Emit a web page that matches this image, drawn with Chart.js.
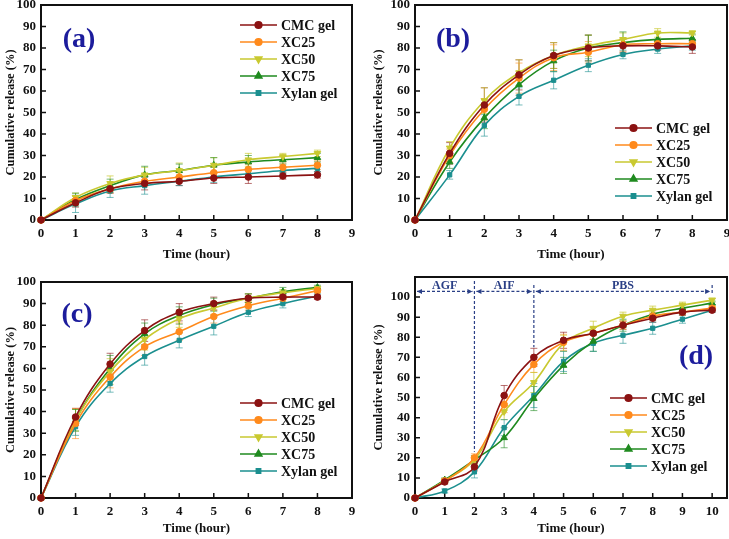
<!DOCTYPE html>
<html>
<head>
<meta charset="utf-8">
<script src="https://cdn.jsdelivr.net/npm/chart.js@4"></script>
<style>
  body { margin: 0; background: #fff; width: 729px; height: 539px; position: relative; overflow: hidden; }
  .panel { position: absolute; }
</style>
</head>
<body>
<div class="panel" id="pa"><canvas id="ca"></canvas></div>
<div class="panel" id="pb"><canvas id="cb"></canvas></div>
<div class="panel" id="pc"><canvas id="cc"></canvas></div>
<div class="panel" id="pd"><canvas id="cd"></canvas></div>
<script>
// series names
const series = ["CMC gel", "XC25", "XC50", "XC75", "Xylan gel"];

// time points (hour)
const timeABC = [0, 1, 2, 3, 4, 5, 6, 7, 8];
const timeD = [0, 1, 2, 3, 4, 5, 6, 7, 8, 9, 10];

// tick labels
const xTicksABC = [0, 1, 2, 3, 4, 5, 6, 7, 8, 9];
const xTicksD = [0, 1, 2, 3, 4, 5, 6, 7, 8, 9, 10];
const yTicks = [0, 10, 20, 30, 40, 50, 60, 70, 80, 90, 100];

// cumulative release (%) per panel, one row per series
const releaseA = [
  [0, 8, 14.5, 17, 18, 19.5, 20, 20.5, 21],
  [0, 9, 14.5, 18, 20, 22, 23.5, 24.5, 25.5],
  [0, 10.5, 17, 21, 23, 25.5, 28, 29.5, 31],
  [0, 9.5, 16, 21, 23, 25.5, 27, 28, 29],
  [0, 7.5, 13.5, 16, 18, 20, 21.5, 23, 24]
];
const errorA = [
  [0, 2, 2, 3, 2, 2.5, 3, 1.5, 1.5],
  [0, 2, 2, 2.5, 2, 2.5, 2.5, 2, 2],
  [0, 2, 3.5, 3.5, 3.5, 3.5, 3, 1.5, 1.5],
  [0, 3, 3, 4, 3, 3.5, 3, 2, 2],
  [0, 4, 3, 4, 2, 2.5, 2, 1.5, 1.5]
];
const releaseB = [
  [0, 31, 53.5, 67.5, 76.5, 80, 81, 81, 80.5],
  [0, 30, 51.5, 66, 75.5, 78, 81.5, 82, 82],
  [0, 33.5, 55.5, 68.5, 76.5, 81, 84, 87, 87],
  [0, 27, 47.5, 63, 74, 80, 82.5, 84, 84.5],
  [0, 21, 44, 57.5, 65, 72, 77, 79.5, 81]
];
const errorB = [
  [0, 5, 8, 7, 6, 6, 3, 2, 3],
  [0, 3, 5, 7, 6, 5, 3, 2, 2],
  [0, 3, 6, 6, 6, 5, 3, 2, 1],
  [0, 3, 5, 5, 5, 6, 5, 3, 2],
  [0, 2, 5, 4, 4, 3, 2, 2, 2]
];
const releaseC = [
  [0, 37.5, 62, 77.5, 86, 90, 92.5, 93, 93],
  [0, 34.5, 56, 70, 77, 84, 89, 92.5, 96],
  [0, 36, 58.5, 73.5, 83, 88, 92.5, 95, 97],
  [0, 36, 60, 76, 84.5, 89.5, 92.5, 95.5, 97.5],
  [0, 33, 53, 65.5, 73, 79.5, 86, 90, 93.5]
];
const errorC = [
  [0, 4, 5, 5, 4, 3, 2, 1, 1],
  [0, 7, 5, 4, 4, 3, 2, 1.5, 1],
  [0, 5, 6, 5, 4, 3, 2, 1.5, 1],
  [0, 5, 6, 5, 4, 3, 2, 2, 1],
  [0, 4, 4, 4, 3.5, 4, 2, 2, 1]
];
const releaseD = [
  [0, 8, 15.5, 51, 70, 78.5, 82, 86, 89.5, 92.5, 93.5],
  [0, 8.5, 20, 46.5, 66.5, 77.5, 82, 86, 90.5, 92.5, 94.5],
  [0, 8.5, 19, 43, 57.5, 77, 84.5, 90.5, 93.5, 96, 98.5],
  [0, 9, 19, 30, 49.5, 66, 78, 86, 91.5, 94.5, 97],
  [0, 3.5, 13, 35, 51, 68, 77, 81, 84.5, 89, 93.5]
];
const errorD = [
  [0, 1, 2, 5, 4.5, 4, 3, 2, 2, 1.5, 1],
  [0, 1, 2, 4, 4, 4, 3, 2, 2, 1.5, 1],
  [0, 1, 2, 4, 5, 4, 3.5, 2, 2, 1.5, 1],
  [0, 1, 2, 5, 6, 4, 5, 3, 2, 1.5, 1],
  [0, 1, 3, 4, 6, 5, 4, 4, 3, 2, 1]
];

// release media in panel (d)
const phases = [
  { label: "AGF", from: 0, to: 2 },
  { label: "AIF", from: 2, to: 4 },
  { label: "PBS", from: 4, to: 10 }
];

const colors = ["#8b1212", "#ff8a1c", "#c9c930", "#1f8a1f", "#1b8f8f"];
const errColors = ["rgba(139,18,18,0.6)", "rgba(255,138,28,0.6)", "rgba(201,201,48,0.7)", "rgba(31,138,31,0.6)", "rgba(27,143,143,0.6)"];
const styles = ["circle", "circle", "triangle", "triangle", "rect"];
const rotations = [0, 0, 180, 0, 0];
const radii = [3.3, 3.3, 3.8, 3.8, 3];
const serif = "'Liberation Serif', 'Times New Roman', serif";

const errorBars = {
  id: "errorBars",
  beforeDatasetsDraw(chart) {
    const { ctx, scales: { x, y } } = chart;
    chart.data.datasets.forEach((ds) => {
      ctx.save();
      ctx.strokeStyle = ds.errColor;
      ctx.lineWidth = 1;
      ctx.beginPath();
      ds.data.forEach((p) => {
        if (!p.e) return;
        const px = x.getPixelForValue(p.x);
        const lo = y.getPixelForValue(p.y - p.e);
        const hi = y.getPixelForValue(p.y + p.e);
        ctx.moveTo(px, lo); ctx.lineTo(px, hi);
        ctx.moveTo(px - 3.5, lo); ctx.lineTo(px + 3.5, lo);
        ctx.moveTo(px - 3.5, hi); ctx.lineTo(px + 3.5, hi);
      });
      ctx.stroke();
      ctx.restore();
    });
  }
};

const frame = {
  id: "frame",
  beforeDatasetsDraw(chart) {
    const { ctx, chartArea: a, scales: { x, y } } = chart;
    ctx.save();
    ctx.strokeStyle = "#111";
    ctx.lineWidth = 1.5;
    ctx.beginPath();
    x.ticks.forEach((t) => {
      const px = x.getPixelForValue(t.value);
      ctx.moveTo(px, a.bottom); ctx.lineTo(px, a.bottom - 5);
    });
    y.ticks.forEach((t) => {
      if (t.value > 100) return;
      const py = y.getPixelForValue(t.value);
      ctx.moveTo(a.left, py); ctx.lineTo(a.left + 5, py);
    });
    ctx.stroke();
    ctx.lineWidth = 2;
    ctx.strokeRect(a.left, a.top, a.right - a.left, a.bottom - a.top);
    ctx.restore();
  }
};

const legendBox = {
  id: "legendBox",
  afterDraw(chart, args, o) {
    const ctx = chart.ctx;
    ctx.save();
    ctx.font = "bold 14px " + serif;
    ctx.textBaseline = "middle";
    chart.data.datasets.forEach((ds, i) => {
      const y = o.y + i * o.dy;
      ctx.strokeStyle = ds.borderColor;
      ctx.fillStyle = ds.borderColor;
      ctx.lineWidth = 1.6;
      ctx.beginPath();
      ctx.moveTo(o.x, y); ctx.lineTo(o.x + o.len, y);
      ctx.stroke();
      Chart.helpers.drawPoint(ctx, { pointStyle: ds.pointStyle, rotation: ds.pointRotation, radius: ds.pointRadius, borderWidth: 1 }, o.x + o.len / 2, y);
      ctx.fillStyle = "#111";
      ctx.fillText(ds.label, o.x + o.len + 4, y + 1);
    });
    ctx.restore();
  }
};

const panelLabel = {
  id: "panelLabel",
  afterDraw(chart, args, o) {
    const ctx = chart.ctx;
    ctx.save();
    ctx.font = "bold 28px " + serif;
    ctx.fillStyle = "#1c1c9c";
    ctx.textAlign = "center";
    ctx.textBaseline = "middle";
    ctx.fillText(o.text, o.x, o.y);
    ctx.restore();
  }
};

const media = {
  id: "media",
  beforeDatasetsDraw(chart, args, o) {
    if (!o.show) return;
    const { ctx, scales: { x, y } } = chart;
    const arrowY = y.getPixelForValue(102.8);
    const textY = y.getPixelForValue(105.8);
    const head = (px, dir) => {
      ctx.beginPath();
      ctx.moveTo(px, arrowY);
      ctx.lineTo(px - dir * 5, arrowY - 2.5);
      ctx.lineTo(px - dir * 5, arrowY + 2.5);
      ctx.closePath();
      ctx.fill();
    };
    ctx.save();
    ctx.strokeStyle = "#2a3f86";
    ctx.fillStyle = "#2a3f86";
    ctx.lineWidth = 1.2;
    ctx.setLineDash([3, 2]);
    ctx.beginPath();
    ctx.moveTo(x.getPixelForValue(2), y.getPixelForValue(108)); ctx.lineTo(x.getPixelForValue(2), y.getPixelForValue(23));
    ctx.moveTo(x.getPixelForValue(4), y.getPixelForValue(106)); ctx.lineTo(x.getPixelForValue(4), y.getPixelForValue(75));
    ctx.moveTo(x.getPixelForValue(10), y.getPixelForValue(106)); ctx.lineTo(x.getPixelForValue(10), y.getPixelForValue(101));
    phases.forEach((p) => {
      ctx.moveTo(x.getPixelForValue(p.from) + 2, arrowY); ctx.lineTo(x.getPixelForValue(p.to) - 2, arrowY);
    });
    ctx.stroke();
    ctx.setLineDash([]);
    phases.forEach((p) => {
      head(x.getPixelForValue(p.from) + 2, -1);
      head(x.getPixelForValue(p.to) - 2, 1);
    });
    ctx.font = "bold 12px " + serif;
    ctx.textAlign = "center";
    ctx.textBaseline = "middle";
    phases.forEach((p) => {
      ctx.fillText(p.label, x.getPixelForValue((p.from + p.to) / 2), textY);
    });
    ctx.restore();
  }
};

function makeChart(id, divId, time, rel, err, cfg) {
  const div = document.getElementById(divId);
  const c = cfg.canvas, a = cfg.area;
  div.style.left = c.x + "px"; div.style.top = c.y + "px";
  div.style.width = c.w + "px"; div.style.height = c.h + "px";
  const datasets = series.map((name, i) => ({
    label: name,
    data: time.map((t, j) => ({ x: t, y: rel[i][j], e: err[i][j] })),
    borderColor: colors[i],
    backgroundColor: colors[i],
    errColor: errColors[i],
    borderWidth: 1.6,
    pointStyle: styles[i],
    pointRotation: rotations[i],
    pointRadius: radii[i],
    pointBorderWidth: 1,
    tension: 0.4,
    clip: false
  }));
  return new Chart(document.getElementById(id), {
    type: "line",
    data: { datasets },
    plugins: [frame, errorBars, legendBox, panelLabel, media],
    options: {
      responsive: true,
      maintainAspectRatio: false,
      animation: false,
      layout: { padding: { left: 0, top: a.t - c.y, right: c.x + c.w - a.r, bottom: 0 } },
      plugins: {
        legend: { display: false },
        tooltip: { enabled: false },
        legendBox: cfg.legend,
        panelLabel: cfg.label,
        media: { show: !!cfg.media }
      },
      scales: {
        x: {
          type: "linear",
          min: 0,
          max: cfg.xMax,
          afterBuildTicks: (s) => { s.ticks = cfg.xTicks.map((v) => ({ value: v })); },
          afterFit: (s) => { s.height = c.y + c.h - a.b; },
          grid: { display: false, drawTicks: false },
          border: { display: false },
          ticks: { padding: 6, color: "#111", font: { family: serif, size: 13, weight: "bold" }, maxRotation: 0 },
          title: { display: true, text: "Time (hour)", color: "#111", padding: { top: 0, bottom: cfg.xTitlePad }, font: { family: serif, size: 13, weight: "bold" } }
        },
        y: {
          min: 0,
          max: cfg.yMax,
          afterBuildTicks: (s) => { s.ticks = yTicks.map((v) => ({ value: v })); },
          afterFit: (s) => { s.width = a.l - c.x; },
          grid: { display: false, drawTicks: false },
          border: { display: false },
          ticks: { padding: 5, color: "#111", font: { family: serif, size: 13, weight: "bold" } },
          title: { display: true, text: "Cumulative release (%)", color: "#111", padding: { top: cfg.yTitlePad, bottom: 0 }, font: { family: serif, size: 12.5, weight: "bold" } }
        }
      }
    }
  });
}

makeChart("ca", "pa", timeABC, releaseA, errorA, {
  canvas: { x: 0, y: -10, w: 364, h: 280 },
  area: { l: 41, t: 5, r: 352, b: 220 },
  xMax: 9, yMax: 100, xTicks: xTicksABC, xTitlePad: 8, yTitlePad: 3,
  legend: { x: 240, y: 35, dy: 17, len: 37 },
  label: { text: "(a)", x: 79, y: 50 }
});
makeChart("cb", "pb", timeABC, releaseB, errorB, {
  canvas: { x: 365, y: -10, w: 372, h: 280 },
  area: { l: 415, t: 5, r: 727, b: 220 },
  xMax: 9, yMax: 100, xTicks: xTicksABC, xTitlePad: 8, yTitlePad: 6,
  legend: { x: 250, y: 138, dy: 17, len: 37 },
  label: { text: "(b)", x: 88, y: 50 }
});
makeChart("cc", "pc", timeABC, releaseC, errorC, {
  canvas: { x: 0, y: 262, w: 364, h: 277 },
  area: { l: 41, t: 282, r: 352, b: 498 },
  xMax: 9, yMax: 100, xTicks: xTicksABC, xTitlePad: 3, yTitlePad: 3,
  legend: { x: 240, y: 141, dy: 17, len: 37 },
  label: { text: "(c)", x: 77, y: 53 }
});
makeChart("cd", "pd", timeD, releaseD, errorD, {
  canvas: { x: 365, y: 262, w: 372, h: 277 },
  area: { l: 415, t: 277, r: 727, b: 498 },
  xMax: 10.5, yMax: 110, xTicks: xTicksD, xTitlePad: 3, yTitlePad: 6,
  legend: { x: 245, y: 136, dy: 17, len: 37 },
  label: { text: "(d)", x: 331, y: 95 },
  media: true
});
</script>
</body>
</html>
